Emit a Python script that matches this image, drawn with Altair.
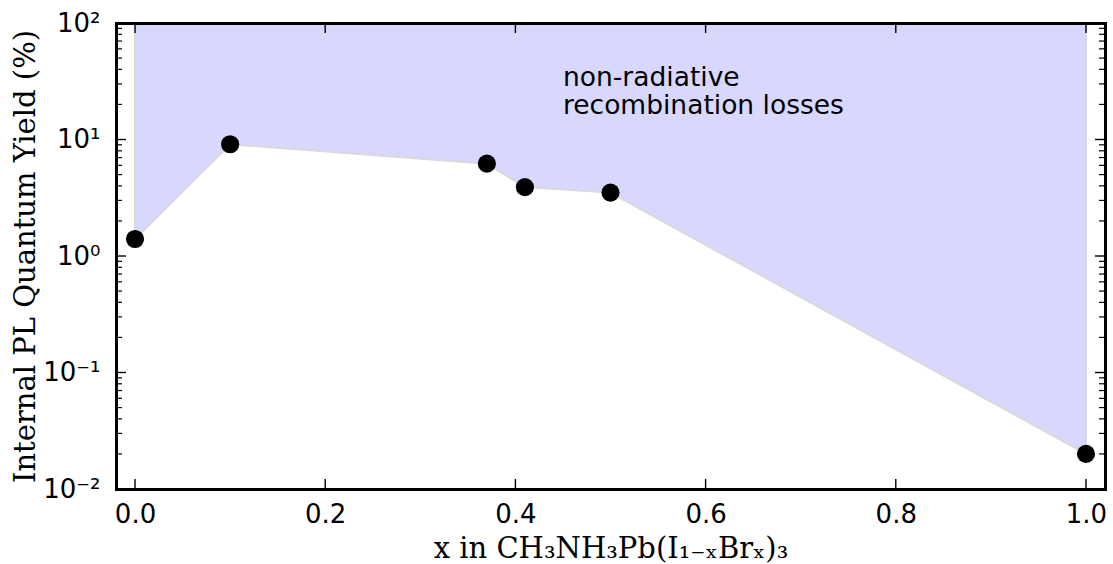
import math

import altair as alt
import pandas as pd

# Bromide fraction x and measured internal PL quantum yield (%)
x_frac = [0.0, 0.1, 0.37, 0.41, 0.5, 1.0]
plqy = [1.4, 9.1, 6.2, 3.9, 3.5, 0.02]

# Axis ticks
y_major = [0.01, 0.1, 1, 10, 100]
y_major_labels = ["10⁻²", "10⁻¹", "10⁰", "10¹", "10²"]
y_minor = [m * 10.0 ** e for e in range(-2, 2) for m in range(2, 10)]
x_major = [0.0, 0.2, 0.4, 0.6, 0.8, 1.0]

# Annotation
note_x = 0.45
note_y = 29
note_lines = ["non-radiative", "recombination losses"]

X_DOMAIN = [-0.02, 1.02]
Y_DOMAIN = [0.01, 100]
Y_TOP = 100

W, H = 989, 466
MAJOR_LEN, MINOR_LEN = 10, 6

df = pd.DataFrame({"x": x_frac, "y": plqy, "top": Y_TOP})
edges = df.iloc[[0, len(df) - 1]]
note = pd.DataFrame({"x": [note_x], "y": [note_y], "label": [note_lines]})
y_major_df = pd.DataFrame({"v": y_major})
y_minor_df = pd.DataFrame({"v": y_minor})
x_major_df = pd.DataFrame({"v": x_major})

x_scale = alt.Scale(domain=X_DOMAIN, nice=False, zero=False)
y_scale = alt.Scale(type="log", domain=Y_DOMAIN, nice=False)

label_expr = " : ".join(
    f"abs(log(datum.value)/LN10 - ({math.log10(v):.3f})) < 0.01 ? '{t}'"
    for v, t in zip(y_major, y_major_labels)
) + " : ''"

frame = dict(
    grid=False,
    ticks=False,
    tickSize=0,
    domain=True,
    domainColor="black",
    domainWidth=3,
    domainCap="square",
    zindex=2,
)
title_style = dict(
    titleFont="DejaVu Serif",
    titleFontSize=29,
    titleFontWeight="normal",
    titleColor="black",
    titleAlign="center",
    titleBaseline="middle",
)
label_style = dict(
    labelFont="DejaVu Sans",
    labelFontSize=26,
    labelColor="black",
)

left_axis = alt.Axis(
    orient="left", values=y_major, labelExpr=label_expr, labelPadding=16,
    title="Internal PL Quantum Yield (%)", titleX=-91, titleY=H / 2,
    titleAngle=270, **label_style, **title_style, **frame,
)
right_axis = alt.Axis(orient="right", values=y_major, labels=False, title=None, **frame)
bottom_axis = alt.Axis(
    orient="bottom", values=x_major, format=".1f", labelPadding=12,
    title="x in CH₃NH₃Pb(I₁₋ₓBrₓ)₃", titleX=W / 2, titleY=59,
    **label_style, **title_style, **frame,
)
top_axis = alt.Axis(orient="top", values=x_major, labels=False, title=None, **frame)

X = lambda axis=None: alt.X("x:Q", scale=x_scale, axis=axis)
Y = lambda axis=None: alt.Y("y:Q", scale=y_scale, axis=axis)

area = alt.Chart(df).mark_area(color="#d8d8ff", opacity=1).encode(
    x=X(bottom_axis), y=Y(left_axis), y2="top:Q",
)

line = alt.Chart(df).mark_line(color="#d9d9d9", strokeWidth=2).encode(
    x=X(top_axis), y=Y(right_axis),
)

sides = alt.Chart(edges).mark_rule(color="#d9d9d9", strokeWidth=2).encode(
    x=X(), y=Y(), y2="top:Q",
)

points = alt.Chart(df).mark_circle(size=330, color="black", opacity=1).encode(
    x=X(), y=Y(),
)

text = alt.Chart(note).mark_text(
    align="left", baseline="alphabetic", font="DejaVu Sans", fontSize=26.5,
    lineHeight=28.5, color="black",
).encode(x=X(), y=Y(), text="label")


# Inward tick marks on all four sides
def y_ticks(data, length, width):
    base = alt.Chart(data).mark_rule(color="black", strokeWidth=width)
    yv = alt.Y("v:Q", scale=y_scale, axis=None)
    return [
        base.encode(y=yv, x=alt.value(0), x2=alt.value(length)),
        base.encode(y=yv, x=alt.value(W), x2=alt.value(W - length)),
    ]


def x_ticks(data, length, width):
    base = alt.Chart(data).mark_rule(color="black", strokeWidth=width)
    xv = alt.X("v:Q", scale=x_scale, axis=None)
    return [
        base.encode(x=xv, y=alt.value(H), y2=alt.value(H - length)),
        base.encode(x=xv, y=alt.value(0), y2=alt.value(length)),
    ]


ticks = (
    y_ticks(y_major_df, MAJOR_LEN, 1.4)
    + y_ticks(y_minor_df, MINOR_LEN, 1.2)
    + x_ticks(x_major_df, MAJOR_LEN, 1.4)
)

chart = (
    alt.layer(area, line, sides, points, text, *ticks)
    .resolve_axis(x="independent", y="independent")
    .properties(
        width=W,
        height=H,
        autosize=alt.AutoSizeParams(type="none"),
        padding={"left": 116, "top": 23, "right": 8, "bottom": 75},
    )
    .configure_view(stroke=None)
    .configure(background="white")
)

chart.save("out.html", embed_options={"renderer": "svg", "actions": False})
